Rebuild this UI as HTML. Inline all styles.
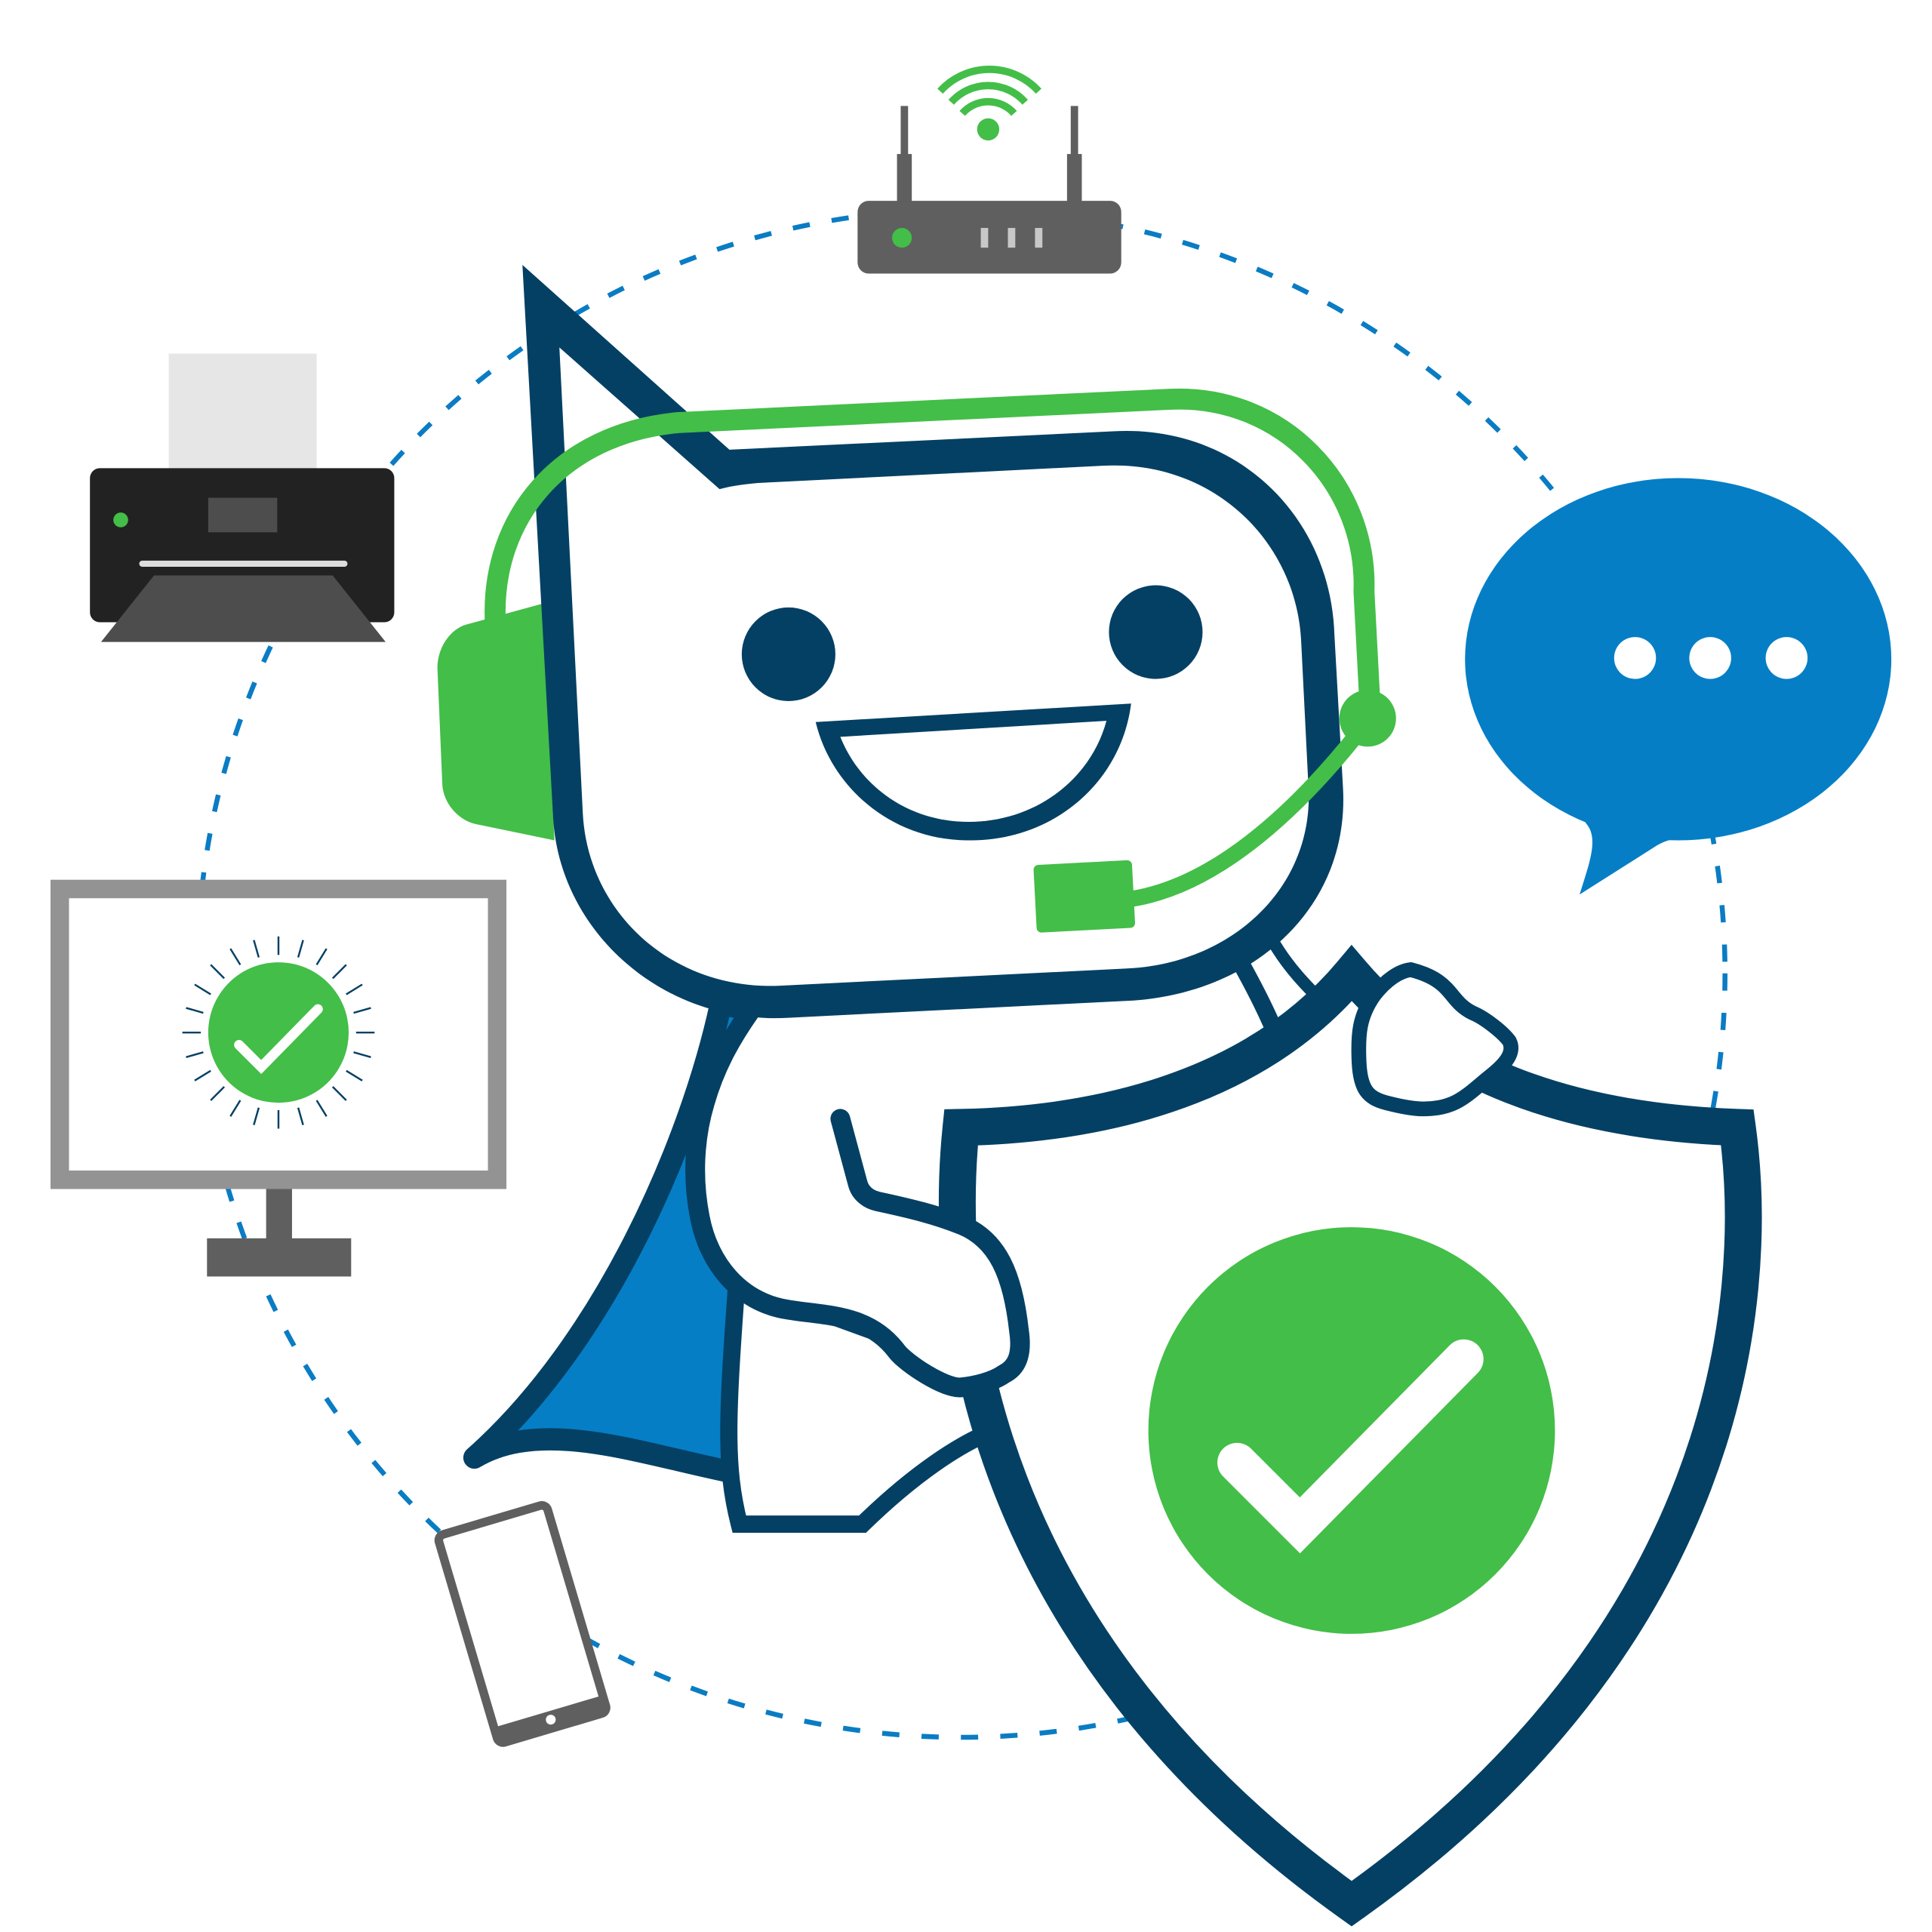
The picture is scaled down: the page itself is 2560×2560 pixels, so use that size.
<!DOCTYPE html>
<html><head><style>html,body{margin:0;padding:0;background:#fff}svg{display:block}</style></head>
<body>
<svg width="2560" height="2560" viewBox="0 0 1568 1568" xmlns="http://www.w3.org/2000/svg">
<rect width="1568" height="1568" fill="#fff"/>
<circle cx="780" cy="790" r="620" fill="none" stroke="#0a7cc4" stroke-width="4" stroke-dasharray="14 18"/>
<!-- router -->
<rect x="731" y="86" width="6" height="80" fill="#5f5f5f"/>
<rect x="728" y="125" width="12" height="40" fill="#5f5f5f"/>
<rect x="869" y="86" width="6" height="80" fill="#5f5f5f"/>
<rect x="866" y="125" width="12" height="40" fill="#5f5f5f"/>
<rect x="696" y="163" width="214" height="59" rx="9" fill="#5f5f5f"/>
<circle cx="732" cy="193" r="8" fill="#43be48"/>
<rect x="796" y="185" width="6" height="16" fill="#c8c8c8"/>
<rect x="818" y="185" width="6" height="16" fill="#c8c8c8"/>
<rect x="840" y="185" width="6" height="16" fill="#c8c8c8"/>
<circle cx="802" cy="105" r="9" fill="#43be48"/>
<g fill="none" stroke="#43be48" stroke-width="6">
<path d="M781,92 A28,28 0 0 1 823,92"/>
<path d="M772,83 A40,40 0 0 1 832,83"/>
<path d="M763,74 A54,54 0 0 1 843,74"/>
</g>
<!-- printer -->
<rect x="137" y="287" width="120" height="95" fill="#e6e6e6"/>
<rect x="73" y="380" width="247" height="125" rx="8" fill="#222"/>
<circle cx="98" cy="422" r="6" fill="#43be48"/>
<rect x="169" y="404" width="56" height="28" fill="#4d4d4d"/>
<rect x="113" y="455" width="169" height="5" rx="2.5" fill="#ddd"/>
<polygon points="125,467 270,467 313,521 82,521" fill="#4d4d4d"/>
<!-- monitor -->
<rect x="48.5" y="721.5" width="355" height="236" fill="#fff" stroke="#939393" stroke-width="15"/>
<rect x="216" y="965" width="21" height="42" fill="#5f5f5f"/>
<rect x="168" y="1005" width="117" height="31" fill="#5f5f5f"/>
<g stroke="#044064" stroke-width="1.5">
<line x1="226" y1="775" x2="226" y2="760"/><line x1="226" y1="901" x2="226" y2="916"/>
<line x1="163" y1="838" x2="148" y2="838"/><line x1="289" y1="838" x2="304" y2="838"/>
<line x1="242" y1="777" x2="246" y2="763"/><line x1="210" y1="899" x2="206" y2="913"/>
<line x1="257" y1="783" x2="265" y2="770"/><line x1="195" y1="893" x2="187" y2="906"/>
<line x1="270" y1="794" x2="281" y2="783"/><line x1="182" y1="882" x2="171" y2="893"/>
<line x1="281" y1="807" x2="294" y2="799"/><line x1="171" y1="869" x2="158" y2="877"/>
<line x1="287" y1="822" x2="301" y2="818"/><line x1="165" y1="854" x2="151" y2="858"/>
<line x1="287" y1="854" x2="301" y2="858"/><line x1="165" y1="822" x2="151" y2="818"/>
<line x1="281" y1="869" x2="294" y2="877"/><line x1="171" y1="807" x2="158" y2="799"/>
<line x1="270" y1="882" x2="281" y2="893"/><line x1="182" y1="794" x2="171" y2="783"/>
<line x1="257" y1="893" x2="265" y2="906"/><line x1="195" y1="783" x2="187" y2="770"/>
<line x1="242" y1="899" x2="246" y2="913"/><line x1="210" y1="777" x2="206" y2="763"/>
</g>
<circle cx="226" cy="838" r="57" fill="#43be48"/>
<polyline points="194,848 212,866 258,819" fill="none" stroke="#fff" stroke-width="8" stroke-linecap="round"/>
<!-- phone -->
<g transform="translate(424,1318) rotate(-16.5)">
<rect x="-46" y="-88" width="92" height="176" rx="5" fill="#fff" stroke="#5f5f5f" stroke-width="7"/>
<rect x="-46" y="74" width="92" height="14" fill="#5f5f5f"/>
<circle cx="0" cy="81" r="4" fill="#fff"/>
</g>
<!-- speech bubble -->
<ellipse cx="1362" cy="535" rx="173" ry="147" fill="#057ec6"/>
<path d="M1285,640 L1287,668 C1298,680 1290,700 1282,726 L1345,686 C1355,680 1365,680 1378,680 L1380,640 Z" fill="#057ec6"/>
<circle cx="1327" cy="534" r="17" fill="#fff"/>
<circle cx="1388" cy="534" r="17" fill="#fff"/>
<circle cx="1450" cy="534" r="17" fill="#fff"/>
<!-- cape -->
<path d="M585,815 C560,930 490,1090 385,1183 C440,1150 520,1180 595,1195 L600,1040 L612,820 Z" fill="#057ec6" stroke="#044064" stroke-width="18" stroke-linejoin="round"/>
<!-- torso fill -->
<path d="M612,815 L1010,770 L1070,800 L1000,860 L800,960 L790,1110 L620,1070 L570,980 L575,900 Z" fill="#fff"/>
<path d="M1005,778 C1020,805 1030,825 1040,850" stroke="#044064" stroke-width="14" fill="none"/>
<path d="M1032,762 C1045,785 1060,800 1080,820" stroke="#044064" stroke-width="10" fill="none"/>
<!-- lower body -->
<path d="M598,1040 C590,1150 588,1190 600,1237 L700,1237 C740,1198 780,1170 810,1160 L790,1110 Z" fill="#fff" stroke="#044064" stroke-width="14"/>
<!-- shield -->
<path d="M1097,790 C1030,870 920,912 780,915 C765,1060 795,1330 1097,1545 C1400,1330 1430,1060 1410,915 C1270,910 1165,870 1097,790Z" fill="#fff" stroke="#044064" stroke-width="30"/>
<circle cx="1097" cy="1161" r="165" fill="#43be48"/>
<polyline points="1004,1187 1055,1238 1188,1103" fill="none" stroke="#fff" stroke-width="32" stroke-linecap="round"/>
<!-- hand on shield -->
<path d="M1145,787 C1180,796 1175,812 1195,822 C1205,826 1220,838 1225,845 C1230,855 1220,865 1210,873 C1190,889 1182,900 1155,900 C1145,900 1133,897 1125,895 C1110,891 1104,884 1103,862 C1102,840 1103,825 1115,808 C1125,795 1136,788 1145,787Z" fill="#fff" stroke="#044064" stroke-width="12"/>
<!-- arm -->
<path d="M682,908 L696,960 C698,968 704,973 712,975 C740,981 760,986 780,994 C810,1006 822,1035 827,1080 C830,1100 825,1110 815,1115 C805,1122 790,1125 780,1126 C766,1127 735,1106 728,1097 C705,1066 670,1068 640,1063 C600,1057 575,1025 568,988 C562,958 563,925 572,895 C580,867 592,845 608,822" fill="#fff" stroke="#044064" stroke-width="16" stroke-linecap="round" stroke-linejoin="round"/>
<!-- headset cup -->
<path d="M378,507 L440,490 L450,682 L387,669 C372,666 360,652 359,637 L355,542 C355,526 365,511 378,507Z" fill="#43be48"/>
<!-- head -->
<path d="M424,215 L592,365 L905,350 C1005,345 1080,420 1083,515 L1090,640 C1095,735 1020,805 920,812 L640,826 C540,832 455,758 449,665 Z" fill="#044064"/>
<path d="M454,282 L584,397 C595,394 605,393 615,392 L895,378 C985,373 1052,440 1056,520 L1062,640 C1066,720 1000,782 915,786 L633,800 C545,804 477,740 473,660 Z" fill="#fff"/>
<circle cx="640" cy="531" r="38" fill="#044064"/>
<circle cx="938" cy="513" r="38" fill="#044064"/>
<path d="M662,586 L918,571 C910,635 855,682 788,682 C725,683 675,640 662,586Z" fill="#044064"/>
<path d="M682,598 L898,585 C885,633 840,667 786,667 C737,667 698,638 682,598Z" fill="#fff"/>
<!-- headset band -->
<path d="M402,505 C398,420 455,352 550,343 L950,324 C1040,320 1110,393 1107,480 L1112,575" fill="none" stroke="#43be48" stroke-width="17"/>
<path d="M1110,585 C1060,650 990,720 915,730" fill="none" stroke="#43be48" stroke-width="13"/>
<circle cx="1110" cy="583" r="23" fill="#43be48"/>
<g transform="rotate(-3 880 727)">
<rect x="840" y="700" width="80" height="55" rx="4" fill="#43be48"/>
</g>
</svg>
</body></html>
